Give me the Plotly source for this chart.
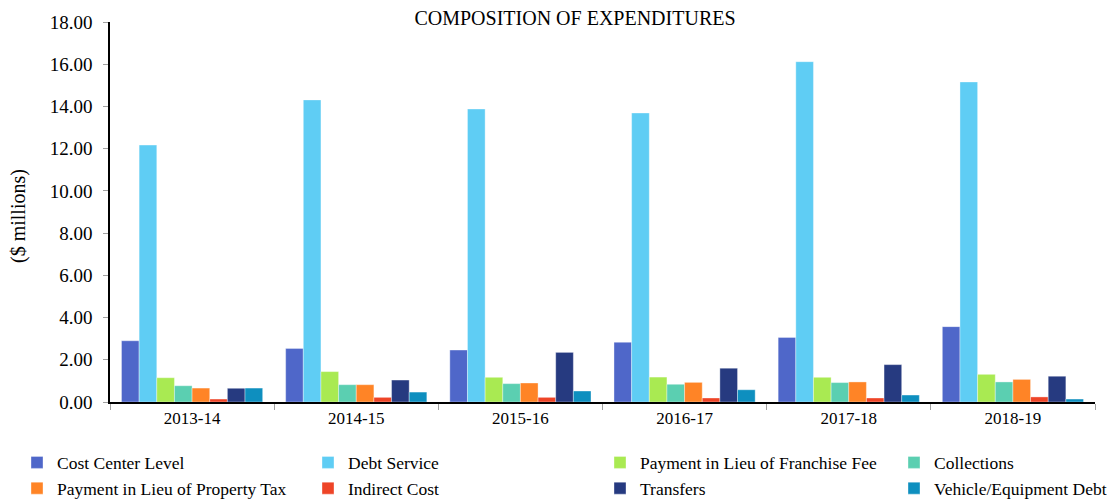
import plotly.graph_objects as go

years = ["2013-14", "2014-15", "2015-16", "2016-17", "2017-18", "2018-19"]
cost_center = [2.90, 2.54, 2.46, 2.83, 3.06, 3.57]
debt_service = [12.17, 14.31, 13.88, 13.69, 16.12, 15.16]
franchise_fee = [1.15, 1.44, 1.17, 1.18, 1.17, 1.31]
collections = [0.77, 0.82, 0.87, 0.84, 0.92, 0.95]
property_tax = [0.66, 0.82, 0.90, 0.93, 0.95, 1.07]
indirect_cost = [0.14, 0.22, 0.22, 0.19, 0.19, 0.24]
transfers = [0.65, 1.04, 2.35, 1.60, 1.77, 1.22]
vehicle_debt = [0.66, 0.47, 0.52, 0.58, 0.33, 0.14]

# (name, values, color, legend column)
series = [
    ("Cost Center Level", cost_center, "#4F67C9", "legend"),
    ("Debt Service", debt_service, "#5FCDF4", "legend2"),
    ("Payment in Lieu of Franchise Fee", franchise_fee, "#A9EA52", "legend3"),
    ("Collections", collections, "#5BCFB1", "legend4"),
    ("Payment in Lieu of Property Tax", property_tax, "#FF8426", "legend"),
    ("Indirect Cost", indirect_cost, "#EE4427", "legend2"),
    ("Transfers", transfers, "#263A80", "legend3"),
    ("Vehicle/Equipment Debt", vehicle_debt, "#0E8FBF", "legend4"),
]

font_family = "Liberation Serif, Times New Roman, serif"

fig = go.Figure()
for i, (name, vals, color, leg) in enumerate(series):
    fig.add_trace(go.Bar(
        name=name, x=years, y=vals, legend=leg, legendgroup=f"g{i}",
        marker=dict(color=color, line=dict(width=0.6, color="rgba(255,255,255,0.6)")),
    ))

W, H = 1115, 501
plot_left, plot_right = 102, 1087
plot_top, plot_bottom = 14, 394
leg_y = -(436.5 - plot_bottom) / (plot_bottom - plot_top)

def legend_cfg(xpix):
    return dict(orientation="v", x=xpix / W, xanchor="left", xref="container",
                y=leg_y, yanchor="top", tracegroupgap=4, bgcolor="rgba(0,0,0,0)",
                font=dict(family=font_family, size=17.5, color="black"),
                itemwidth=30, traceorder="normal")

fig.update_layout(
    width=W, height=H,
    barmode="group", bargap=0.14, bargroupgap=0,
    plot_bgcolor="white", paper_bgcolor="white",
    font=dict(family=font_family, size=16, color="black"),
    margin=dict(l=plot_left, r=W - plot_right, t=plot_top, b=H - plot_bottom, autoexpand=False),
    title=dict(text="COMPOSITION OF EXPENDITURES", x=567 / W, xanchor="center",
               y=1 - 10 / H, yanchor="middle", yref="container",
               font=dict(family=font_family, size=20, color="black")),
    showlegend=True,
    legend=legend_cfg(9),
    legend2=legend_cfg(300),
    legend3=legend_cfg(592),
    legend4=legend_cfg(886),
    annotations=[dict(
        text="($ millions)", textangle=-90, showarrow=False,
        xref="paper", yref="paper",
        x=(10 - plot_left) / (plot_right - plot_left), y=(plot_bottom - 208) / (plot_bottom - plot_top),
        xanchor="center", yanchor="middle",
        font=dict(family=font_family, size=20, color="black"),
    )],
)

fig.update_xaxes(
    showline=True, linecolor="black", linewidth=1.5,
    ticks="outside", tickson="boundaries", tickcolor="#A0A0A0", ticklen=6,
    tickfont=dict(family=font_family, size=17, color="black"),
    showgrid=False,
)
fig.update_yaxes(
    range=[0, 18], dtick=2, tickformat=".2f",
    showline=True, linecolor="black", linewidth=1.5,
    ticks="outside", tickcolor="#A0A0A0", ticklen=5,
    tickfont=dict(family=font_family, size=19, color="black"),
    ticklabelstandoff=7,
    showgrid=False, zeroline=False,
)

fig.write_html("out.html")
